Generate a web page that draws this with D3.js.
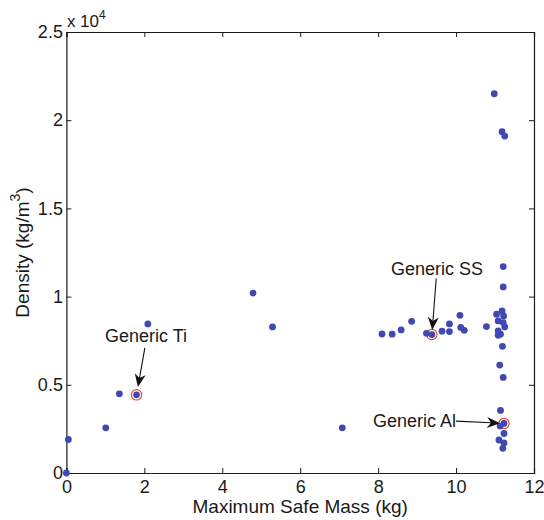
<!DOCTYPE html>
<html>
<head>
<meta charset="utf-8">
<script src="https://cdn.jsdelivr.net/npm/d3@7"></script>
<style>
  html, body { margin: 0; padding: 0; background: #fff; }
  text { font-family: "Liberation Sans", Arial, sans-serif; fill: #1a1a1a; }
</style>
</head>
<body>
<script>
// maximum safe mass (kg) and density (kg/m^3) for every material
const massKg = [
    0, 0.05, 1.01, 1.36, 1.80, 2.09, 4.79, 5.29, 7.08,
    8.10, 8.36, 8.59, 8.86, 9.24, 9.38, 9.64, 9.83, 9.83, 10.10, 10.12, 10.21, 10.78,
    10.98, 11.18, 11.25,
    11.21, 11.21,
    11.18, 11.04, 11.22, 11.08, 11.21, 11.25, 11.08, 11.14, 11.08,
    11.19, 11.12, 11.21,
    11.14, 11.23, 11.13, 11.23, 11.10, 11.23, 11.20
];
const densityKgM3 = [
    0, 1900, 2560, 4490, 4430, 8450, 10200, 8280, 2560,
    7880, 7870, 8110, 8600, 7920, 7850, 8040, 8450, 8020, 8940, 8250, 8090, 8300,
    21500, 19350, 19100,
    11700, 10550,
    9190, 9000, 8900, 8620, 8530, 8280, 8050, 7870, 7810,
    7180, 6120, 5420,
    3550, 2810, 2660, 2240, 1870, 1700, 1400
];

// highlighted generic materials
const highlightNames = ['Generic Ti', 'Generic SS', 'Generic Al'];
const highlightMass = [1.80, 9.38, 11.23];
const highlightDensity = [4430, 7850, 2810];

const xTicks = [0, 2, 4, 6, 8, 10, 12];
const yTicks = [0, 5000, 10000, 15000, 20000, 25000];
const yTickLabels = ['0', '0.5', '1', '1.5', '2', '2.5'];

const width = 544;
const height = 520;
const margin = {top: 32, right: 10, bottom: 47, left: 66.4};
const font = '"Liberation Sans", Arial, sans-serif';

const svg = d3.select('body').append('svg')
    .attr('width', width)
    .attr('height', height);

const x = d3.scaleLinear()
    .domain([0, 12])
    .range([margin.left, width - margin.right]);

const y = d3.scaleLinear()
    .domain([0, 25000])
    .range([height - margin.bottom, margin.top]);

const tickLen = 5;

// axes, matlab style: ticks inside, box all round
svg.append('g')
    .attr('transform', `translate(0, ${y(0)})`)
    .call(d3.axisBottom(x).tickValues(xTicks).tickSize(-tickLen).tickPadding(7).tickFormat(d3.format('d')))
    .call(styleAxis);

svg.append('g')
    .attr('transform', `translate(0, ${y(25000)})`)
    .call(d3.axisTop(x).tickValues(xTicks).tickSize(-tickLen).tickFormat(''))
    .call(styleAxis);

svg.append('g')
    .attr('transform', `translate(${x(0)}, 0)`)
    .call(d3.axisLeft(y).tickValues(yTicks).tickSize(-tickLen).tickPadding(3.5)
        .tickFormat((d, i) => yTickLabels[i]))
    .call(styleAxis);

svg.append('g')
    .attr('transform', `translate(${x(12)}, 0)`)
    .call(d3.axisRight(y).tickValues(yTicks).tickSize(-tickLen).tickFormat(''))
    .call(styleAxis);

function styleAxis(g) {
    g.select('.domain').attr('stroke', '#1a1a1a').attr('stroke-width', 1.2);
    g.selectAll('.tick line').attr('stroke', '#1a1a1a').attr('stroke-width', 1);
    g.selectAll('.tick text')
        .attr('font-size', 18)
        .attr('font-family', font)
        .attr('fill', '#1a1a1a');
}

// exponent label
const expo = svg.append('text')
    .attr('x', x(0) + 0.5)
    .attr('y', y(25000) - 5.5)
    .attr('font-size', 17);
expo.append('tspan').text('x 10');
expo.append('tspan').attr('dy', -8).attr('font-size', 12).text('4');

// axis titles
svg.append('text')
    .attr('x', (x(0) + x(12)) / 2)
    .attr('y', 513)
    .attr('text-anchor', 'middle')
    .attr('font-size', 19)
    .text('Maximum Safe Mass (kg)');

const yTitle = svg.append('text')
    .attr('transform', `translate(29, ${(y(0) + y(25000)) / 2}) rotate(-90)`)
    .attr('text-anchor', 'middle')
    .attr('font-size', 19);
yTitle.append('tspan').text('Density (kg/m');
yTitle.append('tspan').attr('dy', -9).attr('font-size', 14).text('3');
yTitle.append('tspan').attr('dy', 9).text(')');

// red rings behind highlighted points
svg.append('g')
    .selectAll('circle')
    .data(highlightMass)
    .join('circle')
        .attr('cx', d => x(d))
        .attr('cy', (d, i) => y(highlightDensity[i]))
        .attr('r', 5.2)
        .attr('fill', '#fff')
        .attr('stroke', '#e8412c')
        .attr('stroke-width', 1.1);

// all points
svg.append('g')
    .attr('fill', '#4048b1')
    .selectAll('circle')
    .data(massKg)
    .join('circle')
        .attr('cx', d => x(d))
        .attr('cy', (d, i) => y(densityKgM3[i]))
        .attr('r', 3.4);

// annotations: text offset, arrow start and tip gap relative to the point (pixels)
const annoLayout = [
    {tx: 9.5, ty: -52.5, anchor: 'middle', sx: 8.3, sy: -47, gap: 8},
    {tx: 5, ty: -60, anchor: 'middle', sx: 4.3, sy: -56, gap: 4.6},
    {tx: -48, ty: 3.4, anchor: 'end', sx: -48, sy: -2.3, gap: 4}
];

const anno = svg.append('g');
highlightNames.forEach((name, i) => {
    const px = x(highlightMass[i]);
    const py = y(highlightDensity[i]);
    const l = annoLayout[i];
    anno.append('text')
        .attr('x', px + l.tx)
        .attr('y', py + l.ty)
        .attr('text-anchor', l.anchor)
        .attr('font-size', 18)
        .text(name);
    drawArrow(px + l.sx, py + l.sy, px, py, l.gap);
});

function drawArrow(x1, y1, x2, y2, gap) {
    const ang = Math.atan2(y2 - y1, x2 - x1);
    const tx = x2 - Math.cos(ang) * gap;
    const ty = y2 - Math.sin(ang) * gap;
    const len = 13, half = 5.5, back = 9;
    const ux = Math.cos(ang), uy = Math.sin(ang);
    const bx = tx - ux * len, by = ty - uy * len;
    const nx = -uy, ny = ux;
    anno.append('line')
        .attr('x1', x1).attr('y1', y1)
        .attr('x2', tx - ux * back).attr('y2', ty - uy * back)
        .attr('stroke', '#111').attr('stroke-width', 1.1);
    anno.append('path')
        .attr('d', `M${tx},${ty} L${bx + nx * half},${by + ny * half} L${tx - ux * back},${ty - uy * back} L${bx - nx * half},${by - ny * half} Z`)
        .attr('fill', '#111');
}
</script>
</body>
</html>
